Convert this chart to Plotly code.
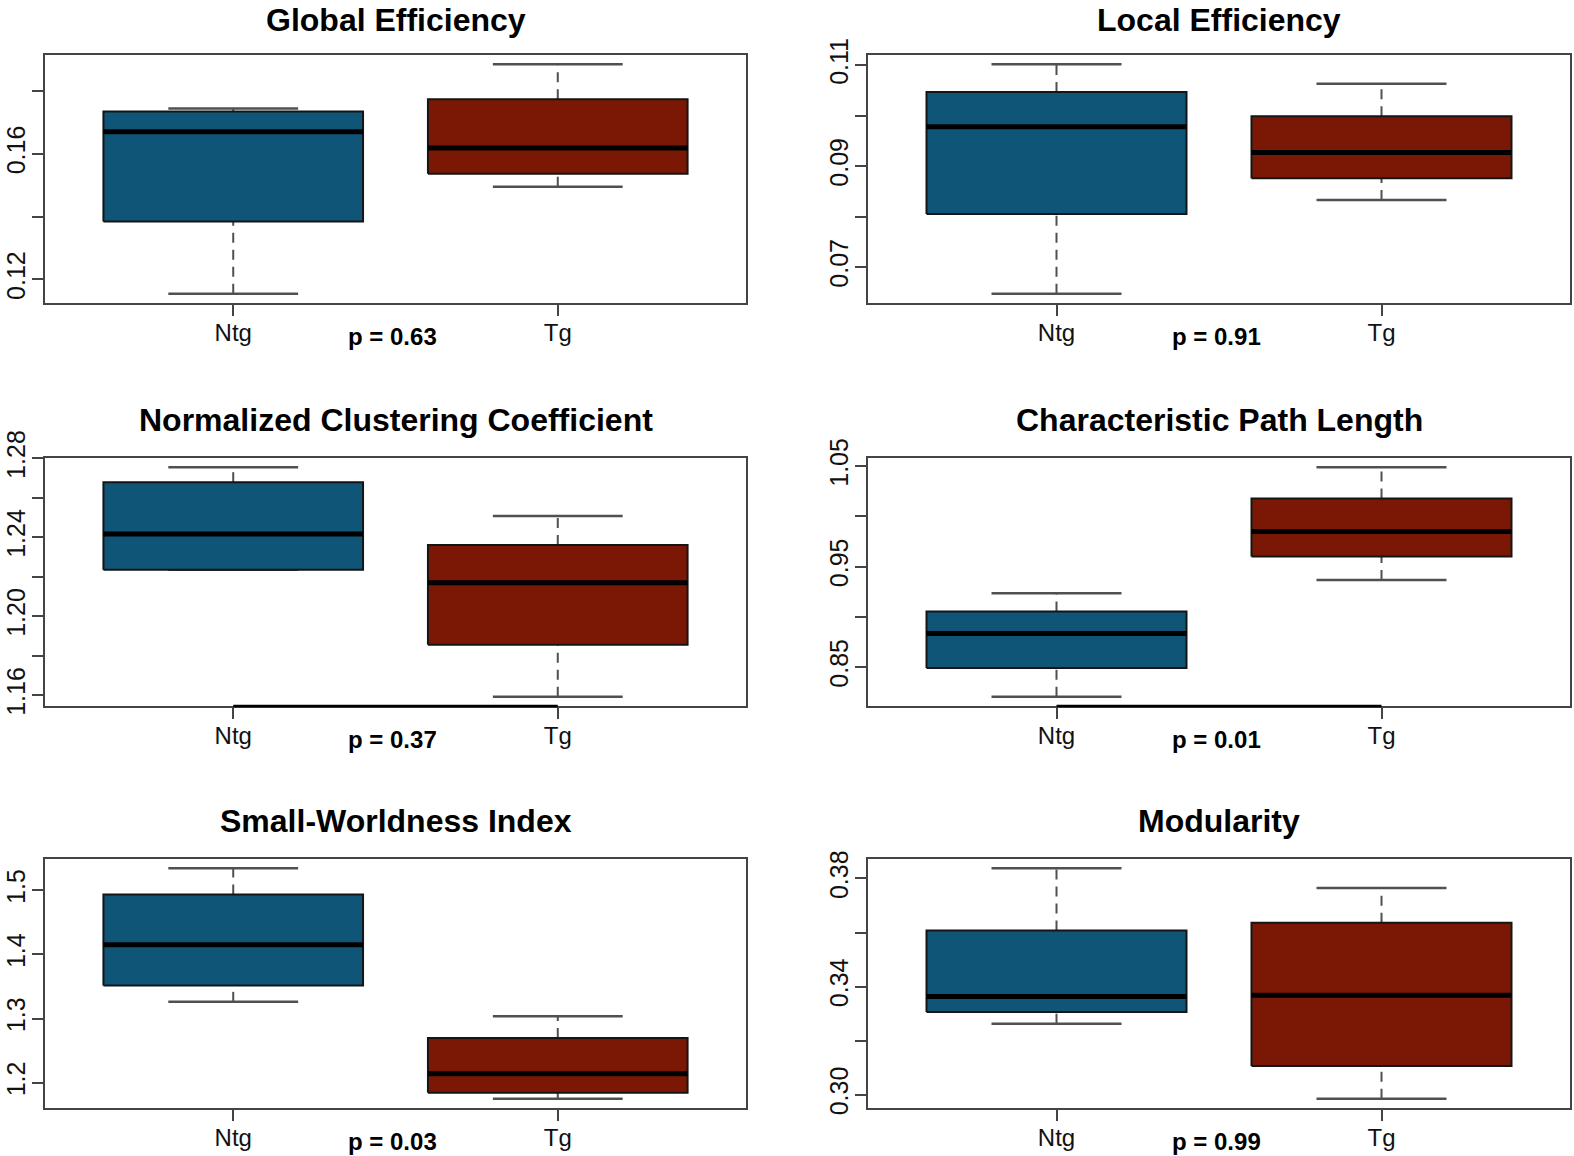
import plotly.graph_objects as go

# ---------------- data ----------------
titles = ["Global Efficiency", "Local Efficiency",
          "Normalized Clustering Coefficient", "Characteristic Path Length",
          "Small-Worldness Index", "Modularity"]
groups = ["Ntg", "Tg"]
p_labels = ["p = 0.63", "p = 0.91", "p = 0.37", "p = 0.01", "p = 0.03", "p = 0.99"]

ntg_lower  = [0.1154, 0.0647, 1.2235, 0.8204, 1.3261, 0.3263]
ntg_q1     = [0.1384, 0.0805, 1.2235, 0.8490, 1.3516, 0.3306]
ntg_median = [0.1670, 0.0978, 1.2417, 0.8835, 1.4152, 0.3363]
ntg_q3     = [0.1734, 0.1047, 1.2679, 0.9054, 1.4933, 0.3608]
ntg_upper  = [0.1744, 0.1102, 1.2755, 0.9234, 1.5344, 0.3838]

tg_lower  = [0.1495, 0.0833, 1.1592, 0.9367, 1.1750, 0.2985]
tg_q1     = [0.1536, 0.0876, 1.1856, 0.9600, 1.1844, 0.3106]
tg_median = [0.1618, 0.0927, 1.2170, 0.9849, 1.2141, 0.3368]
tg_q3     = [0.1773, 0.0999, 1.2361, 1.0178, 1.2698, 0.3636]
tg_upper  = [0.1885, 0.1063, 1.2508, 1.0490, 1.3036, 0.3765]

ytick_vals = [[0.12, 0.14, 0.16, 0.18],
              [0.07, 0.08, 0.09, 0.10, 0.11],
              [1.16, 1.18, 1.20, 1.22, 1.24, 1.26, 1.28],
              [0.85, 0.90, 0.95, 1.00, 1.05],
              [1.2, 1.3, 1.4, 1.5],
              [0.30, 0.32, 0.34, 0.36, 0.38]]
ytick_text = [["0.12", "", "0.16", ""],
              ["0.07", "", "0.09", "", "0.11"],
              ["1.16", "", "1.20", "", "1.24", "", "1.28"],
              ["0.85", "", "0.95", "", "1.05"],
              ["1.2", "1.3", "1.4", "1.5"],
              ["0.30", "", "0.34", "", "0.38"]]

# ---------------- style ----------------
W, H = 1574, 1156
FILL = ["#0f5578", "#7a1805"]
FRAME = "#444444"
WHISK = "#505050"
FONT = "Liberation Sans, Arial, Helvetica, sans-serif"
col_px = [(45, 746), (868, 1570)]
row_px = [(55, 303), (458, 706), (859, 1108)]
BOXW = 0.8
STAPLE = 0.4

fig = go.Figure()
annotations = []
shapes = []

for i in range(6):
    r, c = divmod(i, 2)
    ax = "" if i == 0 else str(i + 1)
    xa, ya = "x" + ax, "y" + ax
    x0p, x1p = col_px[c]
    y0p, y1p = row_px[r]
    stats = [
        (ntg_lower[i], ntg_q1[i], ntg_median[i], ntg_q3[i], ntg_upper[i]),
        (tg_lower[i], tg_q1[i], tg_median[i], tg_q3[i], tg_upper[i]),
    ]
    for g, (lo, q1, med, q3, hi) in enumerate(stats):
        xc = g + 1
        # whiskers (dashed)
        for ya0, ya1 in ((q3, hi), (lo, q1)):
            if ya1 > ya0:
                fig.add_trace(go.Scatter(x=[xc, xc], y=[ya0, ya1], mode="lines",
                                         line=dict(color=WHISK, width=2, dash="10px,7px"),
                                         xaxis=xa, yaxis=ya, hoverinfo="skip"))
        # staples
        for v in (hi, lo):
            fig.add_trace(go.Scatter(x=[xc - STAPLE / 2, xc + STAPLE / 2], y=[v, v], mode="lines",
                                     line=dict(color=WHISK, width=2.5),
                                     xaxis=xa, yaxis=ya, hoverinfo="skip"))
        # box
        bx = [xc - BOXW / 2, xc + BOXW / 2, xc + BOXW / 2, xc - BOXW / 2, xc - BOXW / 2]
        by = [q1, q1, q3, q3, q1]
        fig.add_trace(go.Scatter(x=bx, y=by, mode="lines", fill="toself",
                                 fillcolor=FILL[g], line=dict(color="#151515", width=2),
                                 xaxis=xa, yaxis=ya, hoverinfo="skip"))
        # median
        fig.add_trace(go.Scatter(x=[xc - BOXW / 2, xc + BOXW / 2], y=[med, med], mode="lines",
                                 line=dict(color="#000000", width=5),
                                 xaxis=xa, yaxis=ya, hoverinfo="skip"))

    ymin = min(ntg_lower[i], tg_lower[i])
    ymax = max(ntg_upper[i], tg_upper[i])
    pad = 0.04 * (ymax - ymin)
    n = len(groups)
    xpad = 0.04 * n

    fig.layout["xaxis" + ax] = dict(
        domain=[x0p / W, x1p / W], anchor=ya, range=[0.5 - xpad, n + 0.5 + xpad],
        tickvals=list(range(1, n + 1)), ticktext=groups, automargin=False,
        showline=True, mirror=True, linecolor=FRAME, linewidth=2,
        ticks="outside", ticklen=11, tickwidth=2, tickcolor=FRAME,
        ticklabelstandoff=-4,
        showgrid=False, zeroline=False, fixedrange=True,
        tickfont=dict(family=FONT, size=24, color="#111111"))
    fig.layout["yaxis" + ax] = dict(
        domain=[1 - y1p / H, 1 - y0p / H], anchor=xa, range=[ymin - pad, ymax + pad],
        tickvals=ytick_vals[i], ticktext=ytick_text[i], tickangle=-90, automargin=False,
        showline=True, mirror=True, linecolor=FRAME, linewidth=2,
        ticks="outside", ticklen=11, tickwidth=2, tickcolor=FRAME,
        ticklabelstandoff=-3,
        showgrid=False, zeroline=False, fixedrange=True,
        tickfont=dict(family=FONT, size=25, color="#111111"))

    # title (kept fully inside the page for the top row)
    title_y_px = max(y0p - 38, 20)
    annotations.append(dict(text="<b>" + titles[i] + "</b>", xref="paper", yref="paper",
                            x=(x0p + x1p) / 2 / W, y=1 - title_y_px / H,
                            xanchor="center", yanchor="middle", showarrow=False,
                            font=dict(family=FONT, size=32, color="#000000")))
    # p-value
    annotations.append(dict(text="<b>" + p_labels[i] + "</b>", xref=xa, yref="paper",
                            x=(n + 1) / 2, y=1 - (y1p + 33) / H, xshift=-3,
                            xanchor="center", yanchor="middle", showarrow=False,
                            font=dict(family=FONT, size=24, color="#000000")))
    if i in (2, 3):
        shapes.append(dict(type="line", xref=xa, yref=ya + " domain", x0=1, x1=n, y0=0, y1=0,
                           line=dict(color="#000000", width=2.5)))

fig.update_layout(width=W, height=H, margin=dict(l=0, r=0, t=0, b=0, autoexpand=False),
                  paper_bgcolor="white", plot_bgcolor="white", showlegend=False,
                  annotations=annotations, shapes=shapes)

fig.write_html("out.html", config={"displayModeBar": False},
               post_script="document.body.style.margin='0';document.body.style.overflow='hidden';")
